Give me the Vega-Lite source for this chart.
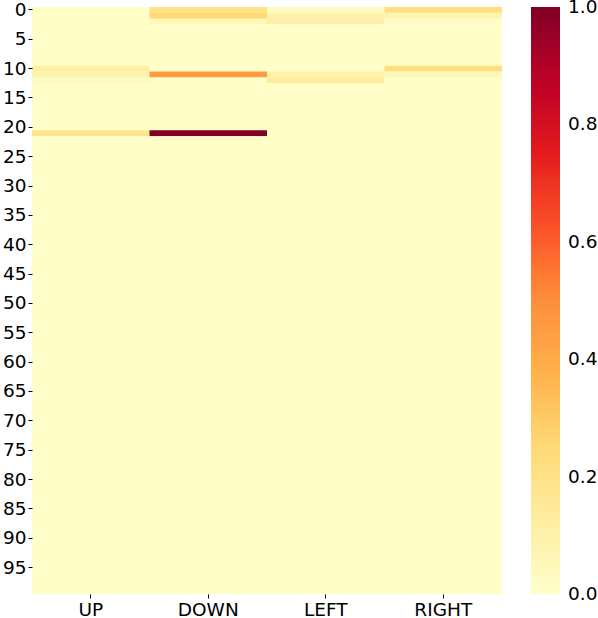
{
  "$schema": "https://vega.github.io/schema/vega-lite/v6.json",
  "width": 470,
  "height": 587,
  "autosize": "none",
  "padding": {"left": 32, "top": 7, "right": 96, "bottom": 24},
  "background": "white",
  "config": {"view": {"stroke": null, "fill": "#fffec8"}, "font": "DejaVu Sans"},
  "data": {"values": [
    {"r":0,"UP":0.01,"DOWN":0.2,"LEFT":0.02,"RIGHT":0.22},
    {"r":1,"UP":0.01,"DOWN":0.25,"LEFT":0.08,"RIGHT":0.08},
    {"r":2,"UP":0.01,"DOWN":0.06,"LEFT":0.11,"RIGHT":0.01},
    {"r":3,"UP":0.01,"DOWN":0.01,"LEFT":0.01,"RIGHT":0.01},
    {"r":4,"UP":0.01,"DOWN":0.01,"LEFT":0.01,"RIGHT":0.01},
    {"r":5,"UP":0.01,"DOWN":0.01,"LEFT":0.01,"RIGHT":0.01},
    {"r":6,"UP":0.01,"DOWN":0.01,"LEFT":0.01,"RIGHT":0.01},
    {"r":7,"UP":0.01,"DOWN":0.01,"LEFT":0.01,"RIGHT":0.01},
    {"r":8,"UP":0.01,"DOWN":0.01,"LEFT":0.01,"RIGHT":0.01},
    {"r":9,"UP":0.01,"DOWN":0.01,"LEFT":0.01,"RIGHT":0.01},
    {"r":10,"UP":0.12,"DOWN":0.01,"LEFT":0.01,"RIGHT":0.22},
    {"r":11,"UP":0.08,"DOWN":0.45,"LEFT":0.1,"RIGHT":0.06},
    {"r":12,"UP":0.04,"DOWN":0.01,"LEFT":0.14,"RIGHT":0.01},
    {"r":13,"UP":0.01,"DOWN":0.01,"LEFT":0.01,"RIGHT":0.01},
    {"r":14,"UP":0.01,"DOWN":0.01,"LEFT":0.01,"RIGHT":0.01},
    {"r":15,"UP":0.01,"DOWN":0.01,"LEFT":0.01,"RIGHT":0.01},
    {"r":16,"UP":0.01,"DOWN":0.01,"LEFT":0.01,"RIGHT":0.01},
    {"r":17,"UP":0.01,"DOWN":0.01,"LEFT":0.01,"RIGHT":0.01},
    {"r":18,"UP":0.01,"DOWN":0.01,"LEFT":0.01,"RIGHT":0.01},
    {"r":19,"UP":0.01,"DOWN":0.01,"LEFT":0.01,"RIGHT":0.01},
    {"r":20,"UP":0.01,"DOWN":0.01,"LEFT":0.01,"RIGHT":0.01},
    {"r":21,"UP":0.18,"DOWN":1.0,"LEFT":0.01,"RIGHT":0.01},
    {"r":22,"UP":0.01,"DOWN":0.01,"LEFT":0.01,"RIGHT":0.01},
    {"r":23,"UP":0.01,"DOWN":0.01,"LEFT":0.01,"RIGHT":0.01},
    {"r":24,"UP":0.01,"DOWN":0.01,"LEFT":0.01,"RIGHT":0.01},
    {"r":25,"UP":0.01,"DOWN":0.01,"LEFT":0.01,"RIGHT":0.01},
    {"r":26,"UP":0.01,"DOWN":0.01,"LEFT":0.01,"RIGHT":0.01},
    {"r":27,"UP":0.01,"DOWN":0.01,"LEFT":0.01,"RIGHT":0.01},
    {"r":28,"UP":0.01,"DOWN":0.01,"LEFT":0.01,"RIGHT":0.01},
    {"r":29,"UP":0.01,"DOWN":0.01,"LEFT":0.01,"RIGHT":0.01},
    {"r":30,"UP":0.01,"DOWN":0.01,"LEFT":0.01,"RIGHT":0.01},
    {"r":31,"UP":0.01,"DOWN":0.01,"LEFT":0.01,"RIGHT":0.01},
    {"r":32,"UP":0.01,"DOWN":0.01,"LEFT":0.01,"RIGHT":0.01},
    {"r":33,"UP":0.01,"DOWN":0.01,"LEFT":0.01,"RIGHT":0.01},
    {"r":34,"UP":0.01,"DOWN":0.01,"LEFT":0.01,"RIGHT":0.01},
    {"r":35,"UP":0.01,"DOWN":0.01,"LEFT":0.01,"RIGHT":0.01},
    {"r":36,"UP":0.01,"DOWN":0.01,"LEFT":0.01,"RIGHT":0.01},
    {"r":37,"UP":0.01,"DOWN":0.01,"LEFT":0.01,"RIGHT":0.01},
    {"r":38,"UP":0.01,"DOWN":0.01,"LEFT":0.01,"RIGHT":0.01},
    {"r":39,"UP":0.01,"DOWN":0.01,"LEFT":0.01,"RIGHT":0.01},
    {"r":40,"UP":0.01,"DOWN":0.01,"LEFT":0.01,"RIGHT":0.01},
    {"r":41,"UP":0.01,"DOWN":0.01,"LEFT":0.01,"RIGHT":0.01},
    {"r":42,"UP":0.01,"DOWN":0.01,"LEFT":0.01,"RIGHT":0.01},
    {"r":43,"UP":0.01,"DOWN":0.01,"LEFT":0.01,"RIGHT":0.01},
    {"r":44,"UP":0.01,"DOWN":0.01,"LEFT":0.01,"RIGHT":0.01},
    {"r":45,"UP":0.01,"DOWN":0.01,"LEFT":0.01,"RIGHT":0.01},
    {"r":46,"UP":0.01,"DOWN":0.01,"LEFT":0.01,"RIGHT":0.01},
    {"r":47,"UP":0.01,"DOWN":0.01,"LEFT":0.01,"RIGHT":0.01},
    {"r":48,"UP":0.01,"DOWN":0.01,"LEFT":0.01,"RIGHT":0.01},
    {"r":49,"UP":0.01,"DOWN":0.01,"LEFT":0.01,"RIGHT":0.01},
    {"r":50,"UP":0.01,"DOWN":0.01,"LEFT":0.01,"RIGHT":0.01},
    {"r":51,"UP":0.01,"DOWN":0.01,"LEFT":0.01,"RIGHT":0.01},
    {"r":52,"UP":0.01,"DOWN":0.01,"LEFT":0.01,"RIGHT":0.01},
    {"r":53,"UP":0.01,"DOWN":0.01,"LEFT":0.01,"RIGHT":0.01},
    {"r":54,"UP":0.01,"DOWN":0.01,"LEFT":0.01,"RIGHT":0.01},
    {"r":55,"UP":0.01,"DOWN":0.01,"LEFT":0.01,"RIGHT":0.01},
    {"r":56,"UP":0.01,"DOWN":0.01,"LEFT":0.01,"RIGHT":0.01},
    {"r":57,"UP":0.01,"DOWN":0.01,"LEFT":0.01,"RIGHT":0.01},
    {"r":58,"UP":0.01,"DOWN":0.01,"LEFT":0.01,"RIGHT":0.01},
    {"r":59,"UP":0.01,"DOWN":0.01,"LEFT":0.01,"RIGHT":0.01},
    {"r":60,"UP":0.01,"DOWN":0.01,"LEFT":0.01,"RIGHT":0.01},
    {"r":61,"UP":0.01,"DOWN":0.01,"LEFT":0.01,"RIGHT":0.01},
    {"r":62,"UP":0.01,"DOWN":0.01,"LEFT":0.01,"RIGHT":0.01},
    {"r":63,"UP":0.01,"DOWN":0.01,"LEFT":0.01,"RIGHT":0.01},
    {"r":64,"UP":0.01,"DOWN":0.01,"LEFT":0.01,"RIGHT":0.01},
    {"r":65,"UP":0.01,"DOWN":0.01,"LEFT":0.01,"RIGHT":0.01},
    {"r":66,"UP":0.01,"DOWN":0.01,"LEFT":0.01,"RIGHT":0.01},
    {"r":67,"UP":0.01,"DOWN":0.01,"LEFT":0.01,"RIGHT":0.01},
    {"r":68,"UP":0.01,"DOWN":0.01,"LEFT":0.01,"RIGHT":0.01},
    {"r":69,"UP":0.01,"DOWN":0.01,"LEFT":0.01,"RIGHT":0.01},
    {"r":70,"UP":0.01,"DOWN":0.01,"LEFT":0.01,"RIGHT":0.01},
    {"r":71,"UP":0.01,"DOWN":0.01,"LEFT":0.01,"RIGHT":0.01},
    {"r":72,"UP":0.01,"DOWN":0.01,"LEFT":0.01,"RIGHT":0.01},
    {"r":73,"UP":0.01,"DOWN":0.01,"LEFT":0.01,"RIGHT":0.01},
    {"r":74,"UP":0.01,"DOWN":0.01,"LEFT":0.01,"RIGHT":0.01},
    {"r":75,"UP":0.01,"DOWN":0.01,"LEFT":0.01,"RIGHT":0.01},
    {"r":76,"UP":0.01,"DOWN":0.01,"LEFT":0.01,"RIGHT":0.01},
    {"r":77,"UP":0.01,"DOWN":0.01,"LEFT":0.01,"RIGHT":0.01},
    {"r":78,"UP":0.01,"DOWN":0.01,"LEFT":0.01,"RIGHT":0.01},
    {"r":79,"UP":0.01,"DOWN":0.01,"LEFT":0.01,"RIGHT":0.01},
    {"r":80,"UP":0.01,"DOWN":0.01,"LEFT":0.01,"RIGHT":0.01},
    {"r":81,"UP":0.01,"DOWN":0.01,"LEFT":0.01,"RIGHT":0.01},
    {"r":82,"UP":0.01,"DOWN":0.01,"LEFT":0.01,"RIGHT":0.01},
    {"r":83,"UP":0.01,"DOWN":0.01,"LEFT":0.01,"RIGHT":0.01},
    {"r":84,"UP":0.01,"DOWN":0.01,"LEFT":0.01,"RIGHT":0.01},
    {"r":85,"UP":0.01,"DOWN":0.01,"LEFT":0.01,"RIGHT":0.01},
    {"r":86,"UP":0.01,"DOWN":0.01,"LEFT":0.01,"RIGHT":0.01},
    {"r":87,"UP":0.01,"DOWN":0.01,"LEFT":0.01,"RIGHT":0.01},
    {"r":88,"UP":0.01,"DOWN":0.01,"LEFT":0.01,"RIGHT":0.01},
    {"r":89,"UP":0.01,"DOWN":0.01,"LEFT":0.01,"RIGHT":0.01},
    {"r":90,"UP":0.01,"DOWN":0.01,"LEFT":0.01,"RIGHT":0.01},
    {"r":91,"UP":0.01,"DOWN":0.01,"LEFT":0.01,"RIGHT":0.01},
    {"r":92,"UP":0.01,"DOWN":0.01,"LEFT":0.01,"RIGHT":0.01},
    {"r":93,"UP":0.01,"DOWN":0.01,"LEFT":0.01,"RIGHT":0.01},
    {"r":94,"UP":0.01,"DOWN":0.01,"LEFT":0.01,"RIGHT":0.01},
    {"r":95,"UP":0.01,"DOWN":0.01,"LEFT":0.01,"RIGHT":0.01},
    {"r":96,"UP":0.01,"DOWN":0.01,"LEFT":0.01,"RIGHT":0.01},
    {"r":97,"UP":0.01,"DOWN":0.01,"LEFT":0.01,"RIGHT":0.01},
    {"r":98,"UP":0.01,"DOWN":0.01,"LEFT":0.01,"RIGHT":0.01},
    {"r":99,"UP":0.01,"DOWN":0.01,"LEFT":0.01,"RIGHT":0.01}
  ]},
  "transform": [{"fold": ["UP", "DOWN", "LEFT", "RIGHT"], "as": ["dir", "v"]}],
  "mark": {"type": "rect"},
  "encoding": {
    "x": {
      "field": "dir", "type": "nominal", "sort": ["UP", "DOWN", "LEFT", "RIGHT"],
      "scale": {"paddingInner": 0, "paddingOuter": 0},
      "axis": {"title": null, "labelAngle": 0, "labelFontSize": 18.5, "labelColor": "black", "domain": false, "tickSize": 4, "tickColor": "black", "labelPadding": 2}
    },
    "y": {
      "field": "r", "type": "ordinal",
      "scale": {"paddingInner": 0, "paddingOuter": 0},
      "axis": {"title": null, "values": [0,5,10,15,20,25,30,35,40,45,50,55,60,65,70,75,80,85,90,95], "labelFontSize": 18.5, "labelColor": "black", "domain": false, "tickSize": 4, "tickColor": "black", "labelPadding": 2}
    },
    "color": {
      "field": "v", "type": "quantitative",
      "scale": {"domain": [0, 0.125, 0.25, 0.375, 0.5, 0.625, 0.75, 0.875, 1], "range": ["#ffffcc", "#ffeda0", "#fed976", "#feb24c", "#fd8d3c", "#fc4e2a", "#e31a1c", "#bd0026", "#800026"]},
      "legend": {
        "type": "gradient", "direction": "vertical",
        "title": null, "orient": "none", "legendX": 499, "legendY": 0,
        "gradientLength": 587, "gradientThickness": 29, "gradientStrokeWidth": 0,
        "values": [0, 0.2, 0.4, 0.6, 0.8, 1.0], "format": ".1f",
        "labelFontSize": 18.5, "labelColor": "black", "labelOffset": 8, "labelOverlap": false,
        "encode": {"labels": {"update": {"baseline": {"value": "middle"}}}}
      }
    }
  }
}
